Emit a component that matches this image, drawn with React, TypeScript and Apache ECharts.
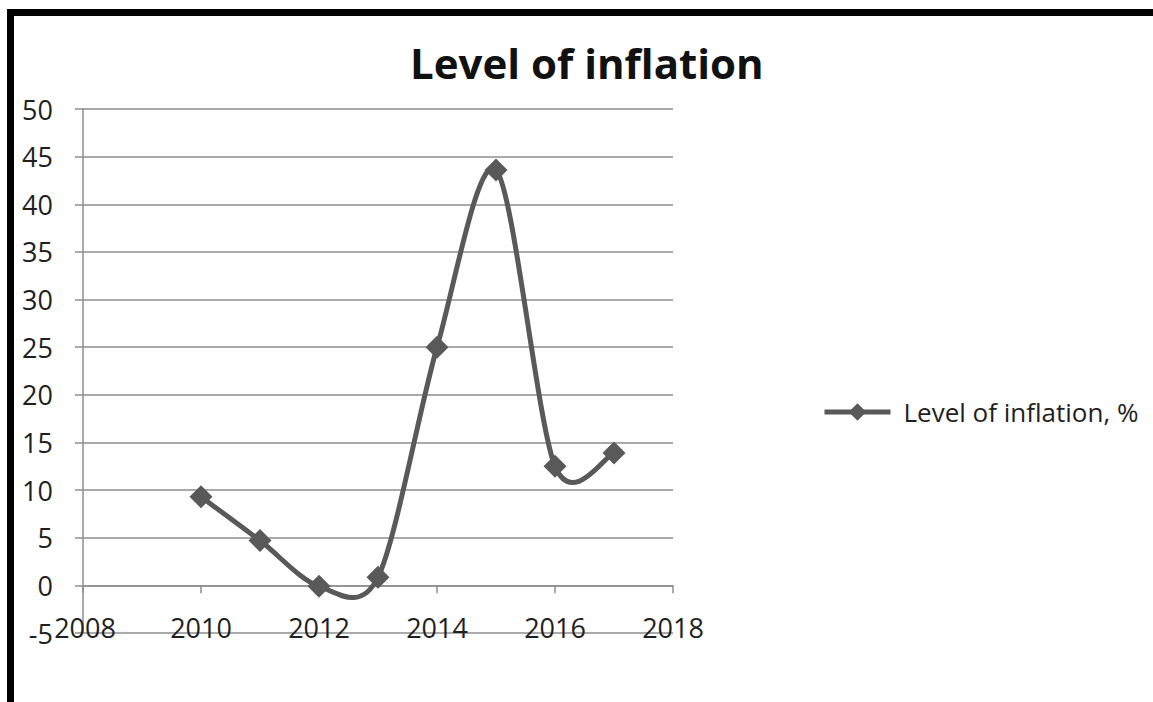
import React, { useEffect, useRef } from "react";
import * as echarts from "echarts";

const years = [2010, 2011, 2012, 2013, 2014, 2015, 2016, 2017];
const inflation = [9.3, 4.7, -0.1, 0.85, 25.0, 43.6, 12.5, 13.9];
const seriesName = "Level of inflation, %";
const titleText = "Level of inflation";

const LINE_COLOR = "#595959";
const GRID_COLOR = "#8e8e8e";
const TEXT_COLOR = "#1f1f1f";
const FONT = "'Open Sans', 'Noto Sans', sans-serif";

export default function App() {
  const ref = useRef<HTMLDivElement>(null);

  useEffect(() => {
    if (!ref.current) return;
    const chart = echarts.init(ref.current, null, { renderer: "svg" });
    const pts = years.map((y, i) => [y, inflation[i]]);

    const renderItem = (params: any, api: any) => {
      const i = params.dataIndex;
      const n = pts.length;
      if (i >= n - 1) return null;
      const c = (k: number) => api.coord(pts[Math.max(0, Math.min(n - 1, k))]);
      const p0 = c(i - 1);
      const p1 = c(i);
      const p2 = c(i + 1);
      const p3 = c(i + 2);
      const t = 0.15;
      return {
        type: "bezierCurve",
        shape: {
          x1: p1[0],
          y1: p1[1],
          x2: p2[0],
          y2: p2[1],
          cpx1: p1[0] + (p2[0] - p0[0]) * t,
          cpy1: p1[1] + (p2[1] - p0[1]) * t,
          cpx2: p2[0] - (p3[0] - p1[0]) * t,
          cpy2: p2[1] - (p3[1] - p1[1]) * t,
        },
        style: { stroke: LINE_COLOR, lineWidth: 5, fill: "none", lineCap: "round" },
      };
    };

    chart.setOption({
      animation: false,
      backgroundColor: "#ffffff",
      textStyle: { fontFamily: FONT },
      title: {
        text: titleText,
        left: 410,
        top: 41,
        padding: 0,
        textStyle: { fontFamily: FONT, fontWeight: "bold", fontSize: 42, color: "#111" },
      },
      legend: {
        left: 822,
        top: 399,
        padding: 0,
        itemWidth: 66,
        itemHeight: 22,
        data: [seriesName],
        lineStyle: { width: 5, color: LINE_COLOR, opacity: 1 },
        textStyle: { fontFamily: FONT, fontSize: 26, color: TEXT_COLOR, padding: [0, 0, 0, 8] },
      },
      grid: { left: 83, right: 480, top: 109, bottom: 69, containLabel: false },
      xAxis: [
        {
          type: "value",
          min: 2008,
          max: 2018,
          interval: 2,
          position: "bottom",
          axisLine: { show: false, onZero: false },
          axisTick: { show: false },
          splitLine: { show: false },
          axisLabel: {
            margin: -6,
            verticalAlign: "middle",
            fontFamily: FONT,
            fontSize: 27,
            color: TEXT_COLOR,
            formatter: (v: number) => (v === 2008 ? "{first|" + v + "}" : String(v)),
            rich: {
              first: { padding: [0, 0, 0, 4], fontFamily: FONT, fontSize: 27, color: TEXT_COLOR },
            },
          },
        },
        {
          type: "value",
          min: 2008,
          max: 2018,
          interval: 2,
          position: "bottom",
          axisLine: { show: true, onZero: true, onZeroAxisIndex: 0, lineStyle: { color: GRID_COLOR, width: 1.5 } },
          axisTick: { show: true, length: 8, lineStyle: { color: GRID_COLOR, width: 1.5 } },
          axisLabel: { show: false },
          splitLine: { show: false },
        },
      ],
      yAxis: {
        type: "value",
        min: -5,
        max: 50,
        interval: 5,
        axisLine: { show: true, lineStyle: { color: GRID_COLOR, width: 1.5 } },
        axisTick: { show: true, length: 8, lineStyle: { color: GRID_COLOR, width: 1.5 } },
        splitLine: { show: true, lineStyle: { color: GRID_COLOR, width: 1.5 } },
        axisLabel: { margin: 30, fontFamily: FONT, fontSize: 27, color: TEXT_COLOR },
      },
      graphic: [
        {
          type: "rect",
          z: 100,
          shape: { x: 10.5, y: 12.5, width: 1300, height: 900 },
          style: { fill: "none", stroke: "#000", lineWidth: 7 },
        },
      ],
      series: [
        {
          type: "custom",
          name: "curve",
          xAxisIndex: 0,
          yAxisIndex: 0,
          data: pts,
          renderItem,
          z: 2,
          silent: true,
        },
        {
          type: "line",
          name: seriesName,
          xAxisIndex: 0,
          yAxisIndex: 0,
          data: pts,
          symbol: "diamond",
          symbolSize: 23,
          showSymbol: true,
          itemStyle: { color: LINE_COLOR },
          lineStyle: { width: 0, color: LINE_COLOR },
          z: 3,
        },
      ],
    });
    return () => chart.dispose();
  }, []);

  return (
    <div
      ref={ref}
      style={{ position: "absolute", left: 0, top: 0, width: 1153, height: 702, background: "#fff" }}
    />
  );
}
